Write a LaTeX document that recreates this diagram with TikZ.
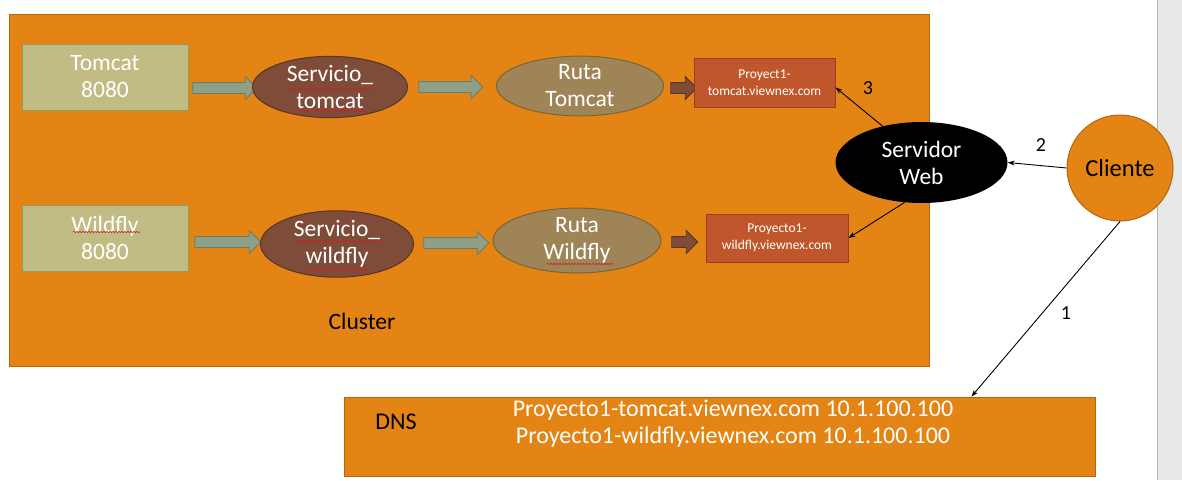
\documentclass[tikz,border=0pt]{standalone}
\usepackage{fontspec}
\setmainfont{Carlito}
\usetikzlibrary{shapes.arrows,shapes.geometric,arrows.meta,decorations.pathmorphing}
\definecolor{orF}{HTML}{E38414}
\definecolor{orD}{HTML}{B5650F}
\definecolor{khF}{HTML}{C1BC83}
\definecolor{khD}{HTML}{8E9C5E}
\definecolor{ggF}{HTML}{8FA088}
\definecolor{ggD}{HTML}{6B7D66}
\definecolor{brF}{HTML}{7F4C39}
\definecolor{brD}{HTML}{5A3325}
\definecolor{tnF}{HTML}{9F8457}
\definecolor{tnD}{HTML}{7A6538}
\definecolor{ruF}{HTML}{C0562B}
\definecolor{ruD}{HTML}{963F1C}
\definecolor{barF}{HTML}{E8E8E8}
\definecolor{squigC}{HTML}{D02020}
\tikzset{
  big/.style={font=\fontsize{23.5}{27}\selectfont, align=center, inner sep=0pt},
  srcbox/.style={draw=khD, fill=khF, line width=1pt, minimum width=166pt, minimum height=66pt, big, text=white},
  svc/.style={ellipse, draw=brD, fill=brF, line width=1pt, big, text=white},
  ruta/.style={ellipse, draw=tnD, fill=tnF, line width=1pt, big, text=white},
  urlbox/.style={draw=ruD, fill=ruF, line width=1pt, font=\fontsize{13.5}{17}\selectfont, align=center, text=white},
  barrow/.style={single arrow, draw=ggD, fill=ggF, line width=0.8pt, inner xsep=0pt, inner ysep=5pt, single arrow head extend=6pt, single arrow tip angle=90},
  brarrow/.style={single arrow, draw=brD, fill=brF, line width=0.8pt, inner xsep=0pt, inner ysep=5pt, single arrow head extend=6pt, single arrow tip angle=90, minimum height=26pt},
  conn/.style={draw=black, line width=0.9pt, -{Stealth[length=7pt,width=5pt]}},
  num/.style={font=\fontsize{20}{22}\selectfont, text=black, inner sep=0pt},
  squig/.style={draw=squigC, line width=0.6pt, decorate, decoration={snake, amplitude=0.7pt, segment length=3pt}}
}
\begin{document}
\begin{tikzpicture}[x=1pt,y=-1pt]
\useasboundingbox (0,0) rectangle (1182,480);
\fill[white] (0,0) rectangle (1182,480);
% scroll bar strip
\fill[barF] (1157,0) rectangle (1182,480);
\draw[gray!60, line width=0.6pt] (1157,0) -- (1157,480);
% cluster
\node[draw=orD, fill=orF, line width=1pt, minimum width=920pt, minimum height=352pt, inner sep=0pt] (cluster) at (469,190) {};
\node[big, text=black] (clabel) at (362,321) {Cluster};
% top row
\node[srcbox] (tom) at (105,77) {Tomcat\\8080};
\node[barrow, minimum height=64pt] (a1) at (222,88) {};
\node[svc, minimum width=155pt, minimum height=55pt] (stom) at (330,87) {Servicio\_\\tomcat};
\node[barrow, minimum height=64pt] (a2) at (448,87) {};
\node[ruta, minimum width=167pt, minimum height=54pt] (rtom) at (580,86) {Ruta\\Tomcat};
\node[brarrow] (a3) at (681,88) {};
\node[urlbox, minimum width=141pt, minimum height=49pt] (ptom) at (764.5,82.5) {Proyect1-\\tomcat.viewnex.com};
% bottom row
\node[srcbox] (wil) at (105,238) {Wildfly\\8080};
\node[barrow, minimum height=66pt] (b1) at (225,242) {};
\node[svc, minimum width=153pt, minimum height=52pt] (swil) at (337,244) {Servicio\_\\wildfly};
\node[barrow, minimum height=65pt] (b2) at (453.5,243) {};
\node[ruta, minimum width=168pt, minimum height=51pt] (rwil) at (577,240.5) {Ruta\\Wildfly};
\node[brarrow] (b3) at (682,242) {};
\node[urlbox, minimum width=142pt, minimum height=48pt] (pwil) at (777,238) {Proyecto1-\\wildfly.viewnex.com};
% spell-check underlines
\draw[squig] (289,89) -- (372,89);
\draw[squig] (298,111) -- (363,111);
\draw[squig] (73,232) -- (140,232);
\draw[squig] (295,241) -- (382,241);
\draw[squig] (307,270) -- (370,270);
\draw[squig] (547,264) -- (613,264);
% server and client
\node[ellipse, fill=black, minimum width=172pt, minimum height=81pt, big, text=white] (srv) at (921.5,162.5) {Servidor\\Web};
\node[circle, draw=orD, fill=orF, line width=1pt, minimum size=106pt, inner sep=0pt, font=\fontsize{24.5}{26}\selectfont] (cli) at (1120,168) {Cliente};
% DNS
\node[draw=orD, fill=orF, line width=1pt, minimum width=751pt, minimum height=79pt, inner sep=0pt] (dns) at (719.5,436.5) {};
\node[font=\fontsize{24}{27}\selectfont, text=black, inner sep=0pt] (dnsl) at (396,422) {DNS};
\node[font=\fontsize{24}{27}\selectfont, align=center, text=white, inner sep=0pt] (dnst) at (733,424) {Proyecto1-tomcat.viewnex.com 10.1.100.100\\Proyecto1-wildfly.viewnex.com 10.1.100.100};
% connectors
\draw[conn] (cli.west) -- (srv.east);
\draw[conn] (srv.137) -- (ptom.-4.5);
\draw[conn] (srv.-113) -- (pwil.east);
\draw[conn] (cli.south) -- ([xshift=628pt]dns.north west);
\node[num] (n1) at (1066,313) {1};
\node[num] (n2) at (1041,145) {2};
\node[num] (n3) at (868,88) {3};
\end{tikzpicture}
\end{document}
